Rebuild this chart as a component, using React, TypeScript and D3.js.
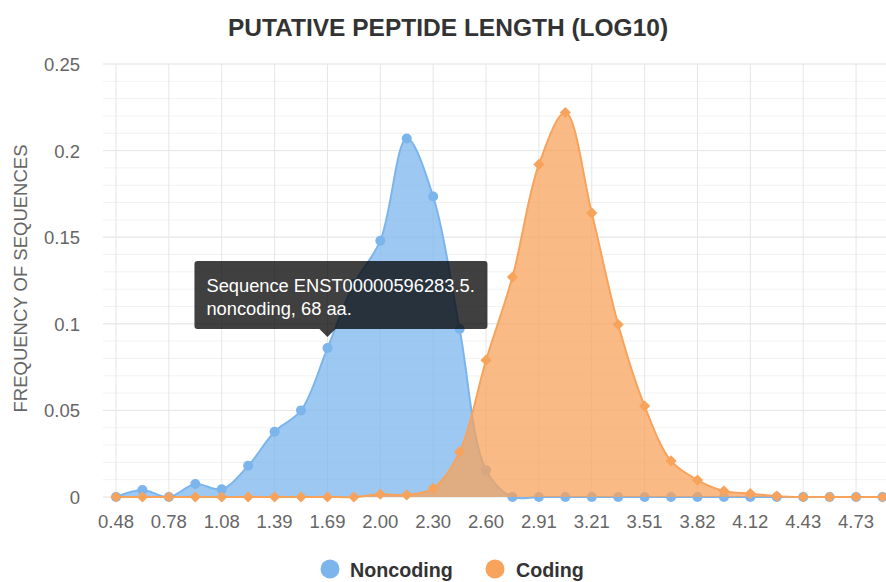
import React from "react"
import * as d3 from "d3"

// log10 peptide length bins (every other one is labelled on the axis)
const categories = [
  0.48, 0.63, 0.78, 0.93, 1.08, 1.24, 1.39, 1.54, 1.69, 1.84,
  2.0, 2.15, 2.3, 2.45, 2.6, 2.76, 2.91, 3.06, 3.21, 3.36,
  3.51, 3.67, 3.82, 3.97, 4.12, 4.28, 4.43, 4.58, 4.73, 4.88,
]

const noncoding = [
  0, 0.004, 0, 0.0075, 0.0045, 0.018, 0.0377, 0.05, 0.086, 0.123,
  0.148, 0.207, 0.1735, 0.097, 0.0155, 0, 0, 0, 0, 0,
  0, 0, 0, 0, 0, 0, 0, 0, 0, 0,
]

const coding = [
  0, 0, 0, 0, 0, 0, 0, 0, 0, 0,
  0.0016, 0.0012, 0.005, 0.026, 0.079, 0.127, 0.192, 0.222, 0.164, 0.0996,
  0.0525, 0.0208, 0.0098, 0.0035, 0.002, 0.0005, 0, 0, 0, 0,
]

const yTicks = [0, 0.05, 0.1, 0.15, 0.2, 0.25]
const tooltipLines = ["Sequence ENST00000596283.5.", "noncoding, 68 aa."]
const tooltipIndex = 8

const W = 886
const H = 582
const FONT = '"Liberation Sans", Arial, Helvetica, sans-serif'
const BLUE = "#7cb5ec"
const ORANGE = "#f7a35c"

export default function App() {
  const plotLeft = 103
  const plotRight = 886
  const x = d3.scaleLinear().domain([0, categories.length - 1]).range([116, 882.5])
  const y = d3.scaleLinear().domain([0, 0.25]).range([497, 64])

  const area = d3
    .area<number>()
    .x((d, i) => x(i))
    .y0(y(0))
    .y1(d => y(d))
    .curve(d3.curveCatmullRom.alpha(0.5))
  const line = d3
    .line<number>()
    .x((d, i) => x(i))
    .y(d => y(d))
    .curve(d3.curveCatmullRom.alpha(0.5))

  const minor = d3.range(0, 26).map(k => k / 100)

  const tipX = x(tooltipIndex)
  const tipY = y(noncoding[tooltipIndex])
  const boxW = 293
  const boxH = 68
  const boxBottom = tipY - 19
  const boxLeft = tipX - 133

  return (
    <svg
      width={W}
      height={H}
      style={{ position: "absolute", left: 0, top: 0, fontFamily: FONT }}
    >
      <rect width={W} height={H} fill="#fff" />
      <text
        x={448}
        y={36}
        textAnchor="middle"
        fontSize={24.5}
        fontWeight="bold"
        fill="#333"
      >
        PUTATIVE PEPTIDE LENGTH (LOG10)
      </text>

      {/* grid */}
      <g>
        {minor.map(v => (
          <line
            key={"m" + v}
            x1={plotLeft}
            x2={plotRight}
            y1={y(v)}
            y2={y(v)}
            stroke="#f2f2f2"
            strokeWidth={1}
          />
        ))}
        {yTicks.map(v => (
          <line
            key={"M" + v}
            x1={plotLeft}
            x2={plotRight}
            y1={y(v)}
            y2={y(v)}
            stroke="#e6e6e6"
            strokeWidth={1}
          />
        ))}
        {categories.map((c, i) =>
          i % 2 === 0 ? (
            <line
              key={"v" + i}
              x1={x(i)}
              x2={x(i)}
              y1={y(0.25)}
              y2={y(0)}
              stroke="#e6e6e6"
              strokeWidth={1}
            />
          ) : null
        )}
      </g>

      {/* y axis */}
      <g fill="#666" fontSize={18.5}>
        {yTicks.map(v => (
          <text key={v} x={80} y={y(v) + 7} textAnchor="end">
            {String(v)}
          </text>
        ))}
        <text
          transform={`translate(27,${(y(0) + y(0.25)) / 2 - 2}) rotate(-90)`}
          textAnchor="middle"
        >
          FREQUENCY OF SEQUENCES
        </text>
      </g>

      {/* x axis */}
      <g fill="#666" fontSize={18.5}>
        {categories.map((c, i) =>
          i % 2 === 0 ? (
            <text key={i} x={x(i)} y={528} textAnchor="middle">
              {c.toFixed(2)}
            </text>
          ) : null
        )}
      </g>

      {/* series */}
      <path d={area(noncoding) || ""} fill={BLUE} fillOpacity={0.75} />
      <path d={line(noncoding) || ""} fill="none" stroke={BLUE} strokeWidth={2} />
      {noncoding.map((v, i) => (
        <circle key={"n" + i} cx={x(i)} cy={y(v)} r={5} fill={BLUE} />
      ))}

      <path d={area(coding) || ""} fill={ORANGE} fillOpacity={0.75} />
      <path d={line(coding) || ""} fill="none" stroke={ORANGE} strokeWidth={2} />
      {coding.map((v, i) => (
        <path
          key={"c" + i}
          d={d3.symbol(d3.symbolDiamond2, 80)() || ""}
          transform={`translate(${x(i)},${y(v)})`}
          fill={ORANGE}
        />
      ))}

      {/* tooltip */}
      <g>
        <rect
          x={boxLeft}
          y={boxBottom - boxH}
          width={boxW}
          height={boxH}
          rx={3}
          fill="rgba(0,0,0,0.75)"
        />
        <path
          d={`M${tipX - 8},${boxBottom}L${tipX + 8},${boxBottom}L${tipX},${boxBottom + 8}Z`}
          fill="rgba(0,0,0,0.75)"
        />
        {tooltipLines.map((t, k) => (
          <text
            key={k}
            x={boxLeft + 12}
            y={boxBottom - boxH + 31 + k * 23.3}
            fill="#fff"
            fontSize={18.3}
          >
            {t}
          </text>
        ))}
      </g>

      {/* legend */}
      <g fontSize={19.7} fontWeight="bold" fill="#333">
        <circle cx={330} cy={569} r={9.5} fill={BLUE} />
        <text x={350} y={577}>
          Noncoding
        </text>
        <circle cx={495} cy={569} r={9.5} fill={ORANGE} />
        <text x={516} y={577}>
          Coding
        </text>
      </g>
    </svg>
  )
}
